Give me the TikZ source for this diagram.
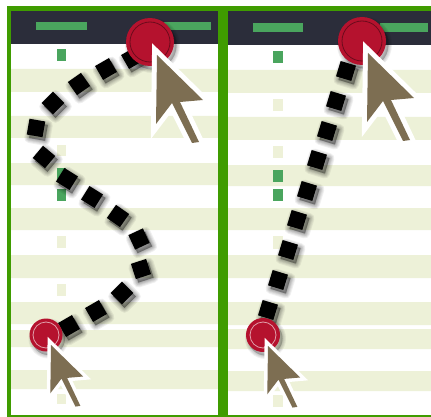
\documentclass[tikz,border=0pt]{standalone}
\usepackage{xcolor}
\definecolor{framegreen}{HTML}{3F9C00}
\definecolor{headdark}{HTML}{2B2D3A}
\definecolor{stripegreen}{HTML}{EDF1D8}
\definecolor{cellgreen}{HTML}{4AA55E}
\definecolor{cellpale}{HTML}{EEF1D8}
\definecolor{clickred}{HTML}{B5122E}
\definecolor{cursorbrown}{HTML}{7D6E52}
\begin{document}
\begin{tikzpicture}[
        x=1pt, y=-1pt,
        frame/.style={fill=framegreen},
        head/.style={fill=headdark},
        stripe/.style={fill=stripegreen},
        on/.style={fill=cellgreen},
        off/.style={fill=cellpale},
        layer/.style={preaction={draw=black, fill=black, line join=round, line width=#1, opacity=.06, transform canvas={shift={(2.5pt,-3.5pt)}}}},
        dot/.style={rectangle, fill=black, minimum size=16pt, inner sep=0pt, layer=10pt, layer=8pt, layer=6pt, layer=4.5pt, layer=3pt, layer=1.5pt, layer=0.5pt},
        click/.style={circle, fill=clickred, inner sep=0pt, layer=7pt, layer=5pt, layer=3pt, layer=1pt},
        ring/.style={line width=0.8pt, draw=#1},
        cursor/.pic={
            \path[fill=cursorbrown, preaction={draw=white, line width=#1, miter limit=4}]
                (0,0) -- (46,45) -- (23,47) -- (42,87) -- (35,88) -- (15,48) -- (-1,69) -- cycle;
        }
    ]
        \useasboundingbox (0,0) rectangle (431,417);
        \fill[white] (0,0) rectangle (431,417);

        % Bandas de las filas
        \fill[stripe] (11,69) rectangle (218,92) (11,116) rectangle (218,138) (11,163) rectangle (218,185)
            (11,208) rectangle (218,230) (11,255) rectangle (218,278) (11,302) rectangle (218,324)
            (11,330) rectangle (218,347) (11,370) rectangle (218,389);
        \fill[stripe] (228,70) rectangle (431,93) (228,117) rectangle (431,140) (228,165) rectangle (431,186)
            (228,208) rectangle (431,230) (228,255) rectangle (431,278) (228,302) rectangle (431,325)
            (228,329) rectangle (431,349) (228,371) rectangle (431,391);

        % Cabeceras
        \fill[head] (11,11) rectangle (218,44);
        \fill[head] (228,11) rectangle (431,45);
        \fill[on] (36,22) rectangle (87,30);
        \fill[on] (164,22) rectangle (211,30);
        \fill[on] (253,23) rectangle (303,32);
        \fill[on] (380,23) rectangle (428,32);

        % Marco
        \fill[frame] (7,6) rectangle (431,11);
        \fill[frame] (7,6) rectangle (11,417);
        \fill[frame] (218,6) rectangle (228,417);
        \fill[frame] (7,415) rectangle (431,417);

        % Celdas izquierda
        \fill[on] (57,49) rectangle (66,61);
        \fill[off] (57,145) rectangle (66,156);
        \fill[on] (57,168) rectangle (66,180);
        \fill[on] (57,189) rectangle (66,201);
        \fill[off] (57,236) rectangle (66,248);
        \fill[off] (57,284) rectangle (66,296);
        \fill[off] (57,394) rectangle (66,404);

        % Celdas derecha
        \fill[on] (273,51) rectangle (283,63);
        \fill[off] (273,99) rectangle (283,111);
        \fill[off] (273,146) rectangle (283,158);
        \fill[on] (273,170) rectangle (283,182);
        \fill[on] (273,189) rectangle (283,201);
        \fill[off] (273,236) rectangle (283,249);
        \fill[off] (273,395) rectangle (283,407);

        % Recorrido izquierda
        \node[dot, rotate=30] (a1) at (132,58) {};
        \node[dot, rotate=30] (a2) at (106,69) {};
        \node[dot, rotate=35] (a3) at (79,84) {};
        \node[dot, rotate=45] (a4) at (53,103) {};
        \node[dot, rotate=-10] (a5) at (36,128) {};
        \node[dot, rotate=-40] (a6) at (44,157) {};
        \node[dot, rotate=-32] (a7) at (67,179) {};
        \node[dot, rotate=-32] (a8) at (92,197) {};
        \node[dot, rotate=-35] (a9) at (118,216) {};
        \node[dot, rotate=-65] (a10) at (139,239) {};
        \node[dot, rotate=-72] (a11) at (141,269) {};
        \node[dot, rotate=45] (a12) at (122,293) {};
        \node[dot, rotate=30] (a13) at (96,311) {};
        \node[dot, rotate=30] (a14) at (69,326) {};

        % Recorrido derecha
        \node[dot, rotate=-17] (b1) at (346,71) {};
        \node[dot, rotate=-17] (b2) at (336,101) {};
        \node[dot, rotate=-17] (b3) at (327,131) {};
        \node[dot, rotate=-17] (b4) at (317,160) {};
        \node[dot, rotate=-17] (b5) at (307,191) {};
        \node[dot, rotate=-17] (b6) at (297,220) {};
        \node[dot, rotate=-17] (b7) at (288,250) {};
        \node[dot, rotate=-17] (b8) at (278,280) {};
        \node[dot, rotate=-17] (b9) at (268,310) {};

        % Clics
        \node[click, minimum size=48pt] (startA) at (150,42) {};
        \draw[ring=clickred!60!black] (startA) circle[radius=20];
        \node[click, minimum size=33pt] (endA) at (46,335) {};
        \draw[ring=clickred!40!white] (endA) circle[radius=13];
        \node[click, minimum size=48pt] (startB) at (362,41) {};
        \draw[ring=clickred!60!black] (startB) circle[radius=20];
        \node[click, minimum size=34pt] (endB) at (263,335) {};
        \draw[ring=clickred!40!white] (endB) circle[radius=13];

        % Cursores
        \pic at (157,55) {cursor=10pt};
        \pic[scale=0.7] at (51,345) {cursor=7pt};
        \pic at (368,53) {cursor=10pt};
        \pic[scale=0.7] at (268,346) {cursor=7pt};
    \end{tikzpicture}
\end{document}
